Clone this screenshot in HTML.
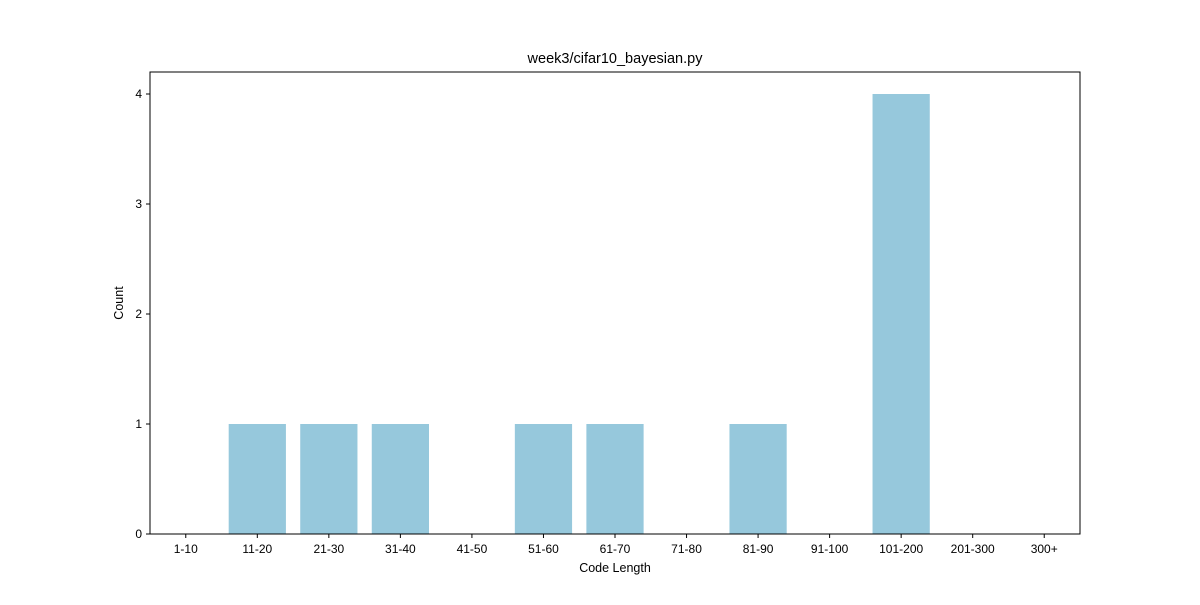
<!DOCTYPE html>
<html><head><meta charset="utf-8">
<style>
html,body{margin:0;padding:0;background:#fff;}
svg text{font-family:"Liberation Sans","DejaVu Sans",sans-serif;fill:#000;}
</style></head>
<body>
<svg id="chart" width="1200" height="600" xmlns="http://www.w3.org/2000/svg">
<rect width="1200" height="600" fill="#fff"/>
<g id="bars"></g>
<g id="xt"></g>
<g id="yt"></g>
<rect x="150" y="72" width="930" height="462" fill="none" stroke="#000" stroke-width="1"/>
<text x="615" y="63" text-anchor="middle" font-size="14.5">week3/cifar10_bayesian.py</text>
<text x="615" y="572" text-anchor="middle" font-size="12.5">Code Length</text>
<text x="123" y="303" text-anchor="middle" font-size="12.5" transform="rotate(-90 123 303)">Count</text>
</svg>
<script>
const categories=["1-10","11-20","21-30","31-40","41-50","51-60","61-70","71-80","81-90","91-100","101-200","201-300","300+"];
const counts=[0,1,1,1,0,1,1,0,1,0,4,0,0];
const yTicks=[0,1,2,3,4];
const L=150,R=1080,T=72,B=534,yMax=4.2;
const step=(R-L)/categories.length;
const xs=i=>L+(i+0.5)*step;
const ys=v=>B-(v/yMax)*(B-T);
const NS="http://www.w3.org/2000/svg";
const bars=document.getElementById('bars'),xt=document.getElementById('xt'),yt=document.getElementById('yt');
function mk(tag,attrs,parent){const e=document.createElementNS(NS,tag);for(const k in attrs)e.setAttribute(k,attrs[k]);parent.appendChild(e);return e;}
categories.forEach((c,i)=>{
  const w=step*0.8;
  if(counts[i]>0){
    const r=mk('rect',{x:xs(i)-w/2,y:ys(counts[i]),width:w,height:B-ys(counts[i]),fill:'#96c8dc'},bars);
    
    
  }
  const tk=mk('line',{x1:xs(i),x2:xs(i),y1:B,y2:B+4,stroke:'#000'},xt);
  
  
  const t=mk('text',{x:xs(i),y:B+19,'text-anchor':'middle','font-size':'12'},xt);
  t.textContent=c;
  
  
});
yTicks.forEach(v=>{
  const tk=mk('line',{x1:L-4,x2:L,y1:ys(v),y2:ys(v),stroke:'#000'},yt);
  
  
  const t=mk('text',{x:L-8,y:ys(v)+4,'text-anchor':'end','font-size':'12'},yt);
  t.textContent=v;
  
  
});
</script>
</body></html>
